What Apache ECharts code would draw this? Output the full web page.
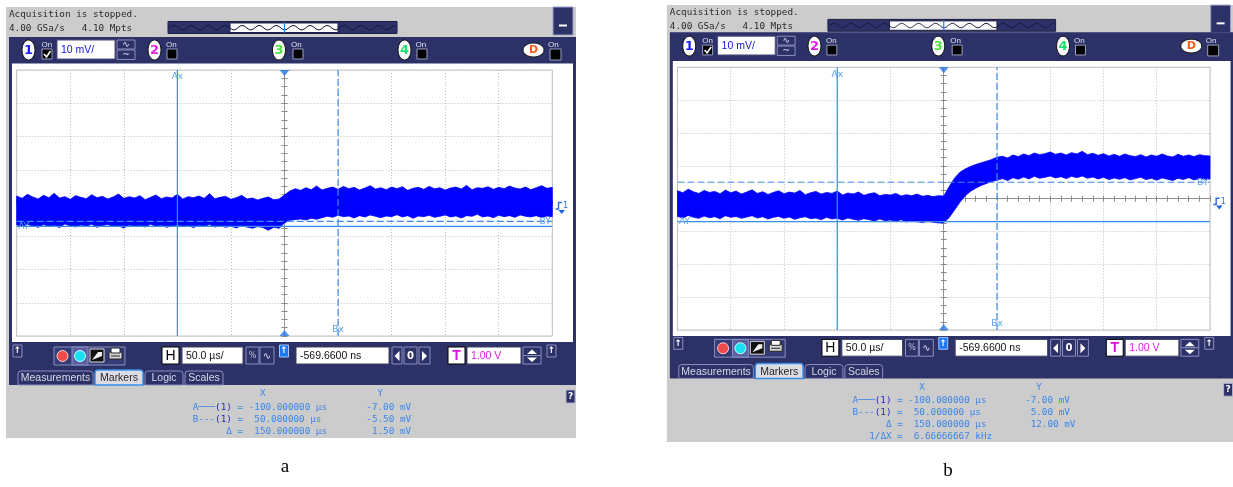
<!DOCTYPE html>
<html>
<head>
<meta charset="utf-8">
<script src="https://cdn.jsdelivr.net/npm/echarts@6/dist/echarts.min.js"></script>
<style>
  html, body { margin: 0; padding: 0; background: #ffffff; }
  #main { width: 1233px; height: 487px; }
</style>
</head>
<body>
<div id="main"></div>
<script>
// ---- Scope settings: 50 µs/div horizontally, 10 mV/div vertically ----
const timeRange = [-250, 250];   // µs
const timeDiv = 50;               // µs per division
const voltRange = [-40, 40];      // mV
const voltDiv = 10;               // mV per division
const triggerTime = 0;            // µs

// Sample clock of the envelope: one point every 5 µs across the screen
const timeUs = [];
for (let t = timeRange[0]; t <= timeRange[1]; t += 5) timeUs.push(t);

// ---- Capture (a): upper / lower envelope of the noisy trace, mV ----
const aUpper = [
  2.1, 1.4, 2.6, 1.8, 1.2, 2.3, 1.6, 2.9, 1.5, 1.9,
  1.1, 2.2, 1.7, 1.3, 2.5, 1.6, 2.0, 1.2, 1.8, 2.7,
  1.4, 1.9, 1.5, 2.2, 1.0, 1.7, 2.4, 1.3, 1.8, 1.5,
  2.6, 1.2, 1.9, 1.6, 2.1, 1.4, 2.8, 1.3, 1.7, 2.0,
  1.1, 1.6, 2.3, 1.2, 1.5, 0.9, 1.4, 1.8, 1.0, 1.2,
  2.4, 3.6, 4.3, 3.8, 4.6, 4.0, 5.1, 3.9, 4.4, 4.8,
  4.1, 5.0, 4.3, 4.7, 3.9, 4.5, 5.2, 4.2, 4.6, 4.0,
  4.8, 4.3, 4.9, 3.8, 4.4, 4.7, 4.1, 5.0, 4.3, 4.6,
  3.9, 4.5, 4.8, 4.2, 5.3, 4.0, 4.6, 4.4, 4.9, 4.1,
  4.7, 4.3, 5.1, 4.5, 4.2, 4.8, 4.0, 4.6, 5.2, 4.4, 4.7
];
const aLower = [
  -6.6, -7.1, -6.4, -6.9, -7.3, -6.5, -7.0, -6.7, -7.4, -6.3,
  -6.9, -7.2, -6.6, -7.0, -6.4, -7.3, -6.8, -6.5, -7.1, -6.9,
  -7.5, -6.6, -7.0, -6.8, -7.2, -6.4, -7.0, -6.7, -7.3, -6.9,
  -6.6, -7.1, -6.8, -7.4, -6.7, -7.0, -6.5, -7.2, -6.9, -7.3,
  -7.0, -7.5, -6.8, -7.2, -7.6, -7.1, -7.4, -8.2, -7.3, -7.6,
  -6.0, -5.2, -5.0, -4.8, -5.1, -4.6, -4.9, -4.4, -4.0, -4.3,
  -3.7, -4.1, -3.9, -4.5, -3.8, -4.2, -3.6, -4.0, -4.4, -3.9,
  -4.1, -3.5, -4.2, -3.8, -4.6, -3.9, -4.1, -3.7, -4.3, -4.0,
  -3.6, -4.2, -3.9, -4.5, -3.8, -4.0, -3.4, -4.2, -3.9, -4.4,
  -3.7, -4.1, -3.8, -4.3, -3.6, -4.0, -4.2, -3.8, -4.4, -3.9, -4.1
];

// ---- Capture (b): upper / lower envelope, mV ----
const bUpper = [
  2.4, 1.8, 2.9, 2.1, 1.6, 2.5, 1.9, 2.2, 1.5, 2.6,
  1.8, 2.3, 1.4, 2.0, 2.7, 1.6, 2.1, 1.3, 1.9, 2.4,
  1.5, 2.0, 1.7, 2.5, 1.2, 1.8, 2.2, 1.4, 1.9, 1.6,
  2.3, 1.1, 1.7, 1.4, 2.0, 1.0, 1.5, 1.8, 0.9, 1.3,
  1.1, 1.6, 0.8, 1.2, 0.9, 1.4, 0.7, 1.0, 0.6, 0.9,
  0.8, 3.6, 6.2, 8.0, 9.0, 9.8, 10.4, 10.9, 11.4, 11.9,
  12.6, 12.9, 12.4, 13.3, 12.8, 13.6, 13.1, 13.9, 13.4, 13.7,
  14.2, 13.5, 13.9, 13.3, 14.0, 13.6, 14.4, 13.4, 13.8, 13.2,
  13.7, 13.0, 13.5, 12.9, 13.6, 13.1, 12.8, 13.4, 12.7, 13.3,
  12.9, 13.6, 13.0, 12.7, 13.5, 12.9, 13.3, 12.8, 13.4, 13.1, 13.0
];
const bLower = [
  -5.4, -5.9, -5.1, -5.7, -6.0, -5.3, -5.8, -5.5, -6.1, -5.2,
  -5.7, -5.4, -6.0, -5.6, -5.2, -5.9, -5.5, -6.2, -5.7, -5.4,
  -6.0, -5.6, -6.3, -5.8, -5.5, -6.1, -5.9, -6.4, -5.7, -6.2,
  -6.0, -6.5, -5.9, -6.3, -6.6, -6.1, -6.4, -6.8, -6.2, -6.7,
  -6.5, -6.9, -6.4, -7.1, -6.8, -7.0, -7.3, -6.9, -7.2, -7.4,
  -7.3, -5.8, -3.5, -1.2, 0.8, 2.2, 3.2, 4.0, 4.6, 5.2,
  5.6, 6.1, 5.5, 6.4, 5.9, 6.6, 6.0, 6.8, 6.2, 6.5,
  6.9, 6.3, 6.7, 6.1, 6.8, 6.4, 6.9, 6.2, 6.6, 6.0,
  6.5, 5.8, 6.3, 5.9, 6.4, 5.7, 6.1, 6.5, 5.8, 6.2,
  5.6, 6.3, 5.9, 5.5, 6.2, 5.8, 6.4, 5.7, 6.1, 5.9, 6.0
];

// ---- Cursor markers (X in µs, Y in mV) ----
const markersA = { ax: -100, bx: 50, ay: -7.0, by: -5.5 };
const markersB = { ax: -100, bx: 50, ay: -7.0, by: 5.0 };

// ---- Colours and fonts ----
const TRACE = '#0000fe';
const MK = '#3b8ce8';
const MK_TEXT = '#5aa0f0';
const NAVY = '#2c3168';
const EDGE = '#8a90bc';
const PANEL = '#cccccc';
const READ = '#3b86ea';
const READ_DARK = '#2626c0';
const MONO = '9.3px "DejaVu Sans Mono", monospace';
const UI = '10.5px "Liberation Sans", Arial, sans-serif';

// Panel geometry helper: the layout is described once (panel a units) and
// mapped onto each screen with its own origin and scale.
function makeT(ox, oy, sx, sy) {
  return { x: v => ox + (v - 16.7) * sx, y: v => oy + (v - 70) * sy, sx: sx, sy: sy };
}
const TA = makeT(16.7, 70, 1, 1);
const TB = makeT(677.5, 67.3, 0.9942, 0.9876);

function signed(v, digits) {
  return (v < 0 ? '-' : ' ') + Math.abs(v).toFixed(digits);
}

function readoutRows(m, withFreq) {
  const dx = m.bx - m.ax, dy = m.by - m.ay;
  const rows = [
    [394, [[12, 'X', READ], [33, 'Y', READ]]],
    [407.7, [[0, 'A───', READ], [4, '(1)', READ_DARK], [8, '=', READ],
             [10, signed(m.ax, 6) + ' µs', READ], [31, signed(m.ay, 2) + ' mV', READ]]],
    [419.3, [[0, 'B---', READ], [4, '(1)', READ_DARK], [8, '=', READ],
             [10, signed(m.bx, 6) + ' µs', READ], [31, signed(m.by, 2) + ' mV', READ]]],
    [431.7, [[6, 'Δ', READ], [8, '=', READ],
             [10, signed(dx, 6) + ' µs', READ], [31, signed(dy, 2) + ' mV', READ]]]
  ];
  if (withFreq) {
    rows.push([444, [[3, '1/ΔX', READ], [8, '=', READ], [10, signed(1000 / dx, 8) + ' kHz', READ]]]);
  }
  return rows;
}

// Instrument frame, toolbars, tabs and readouts drawn around one screen
function chrome(T, opt) {
  const el = [];
  const rect = (x, y, w, h, fill, stroke, r, lw) => el.push({
    type: 'rect', silent: true, z: 0,
    shape: { x: T.x(x), y: T.y(y), width: w * T.sx, height: h * T.sy, r: r || 0 },
    style: { fill: fill || 'none', stroke: stroke || null, lineWidth: lw || 1 }
  });
  const text = (x, y, s, font, fill, align) => el.push({
    type: 'text', silent: true, z: 0, x: T.x(x), y: T.y(y),
    style: { text: s, font: font, fill: fill, align: align || 'left', verticalAlign: 'middle',
             textAlign: align || 'left', textVerticalAlign: 'middle' }
  });
  const line = (pts, stroke, lw) => el.push({
    type: 'polyline', silent: true, z: 0,
    shape: { points: pts.map(p => [T.x(p[0]), T.y(p[1])]) },
    style: { stroke: stroke, lineWidth: lw || 1, fill: null }
  });
  const poly = (pts, fill) => el.push({
    type: 'polygon', silent: true, z: 0,
    shape: { points: pts.map(p => [T.x(p[0]), T.y(p[1])]) },
    style: { fill: fill }
  });
  const ellipse = (cx, cy, rx, ry, fill, stroke) => el.push({
    type: 'ellipse', silent: true, z: 0,
    shape: { cx: T.x(cx), cy: T.y(cy), rx: rx * T.sx, ry: ry * T.sy },
    style: { fill: fill, stroke: stroke, lineWidth: 1 }
  });
  const circle = (cx, cy, r, fill, stroke) => el.push({
    type: 'circle', silent: true, z: 0,
    shape: { cx: T.x(cx), cy: T.y(cy), r: r },
    style: { fill: fill, stroke: stroke || null, lineWidth: 1 }
  });

  // outer grey body
  rect(6, 7, 570, opt.grayBottom - 7, PANEL);
  text(9, 14.3, 'Acquisition is stopped.', MONO, '#2a2a2a');
  text(9, 29, '4.00 GSa/s   4.10 Mpts', MONO, '#2a2a2a');

  // memory overview strip
  rect(168, 21.5, 229, 12, NAVY, '#1a1d44');
  rect(230, 23, 108, 9.5, '#ffffff', '#20204a');
  const wave = [];
  for (let x = 170; x <= 395; x += 1) {
    wave.push([x, 27.7 - 2.2 * Math.sin((x - 170) / 17 * 2 * Math.PI)]);
  }
  line(wave, '#16183a', 1);
  line([[284.5, 22], [284.5, 33]], '#2a7ae6', 1.2);

  // minimise button
  rect(553, 7, 20, 28, NAVY, '#9aa0c8');
  rect(559, 24.5, 8, 2, '#ffffff');

  // navy frame + white display
  rect(9, opt.barTop, 567, 385 - opt.barTop, NAVY);
  rect(12, 63.5, 561, 278.5, '#ffffff');

  // channel selector row
  const cy = 50 + opt.chShift;
  const chan = (cx, lab, col, onX, boxX, check) => {
    ellipse(cx, cy, 6.5, 10, '#ffffff', '#101010');
    text(cx, cy + 0.5, lab, 'bold 13px "DejaVu Sans", sans-serif', col, 'center');
    text(onX, cy - 5.5, 'On', '8px "Liberation Sans", sans-serif', '#e0e0ee');
    rect(boxX, cy - 1, 10, 10, '#000000', '#9aa0c0');
    if (check) line([[boxX + 2, cy + 4], [boxX + 4.5, cy + 7], [boxX + 8.5, cy + 1]], '#ffffff', 1.6);
  };
  chan(28.5, '1', '#1a1aff', 41.5, 42, true);
  rect(57, cy - 10, 58, 19, '#ffffff', '#505080');
  text(61, cy, '10 mV/', UI, '#1515d0');
  rect(117, cy - 10, 18, 9, NAVY, EDGE);
  rect(117, cy, 18, 9.5, NAVY, EDGE);
  text(126, cy - 5.5, '∿', '9px "DejaVu Sans"', '#e0e0f0', 'center');
  text(126, cy + 4.5, '~', '9px "DejaVu Sans"', '#e0e0f0', 'center');
  chan(154.5, '2', '#e020e0', 166, 167, false);
  chan(279, '3', '#50e040', 291, 293, false);
  chan(404.5, '4', '#20e070', 415.5, 417, false);
  ellipse(533.5, cy, 10.5, 7, '#ffffff', '#101010');
  text(533.5, cy + 0.5, 'D', 'bold 11px "DejaVu Sans", sans-serif', '#ff5a1a', 'center');
  text(548, cy - 5.5, 'On', '8px "Liberation Sans", sans-serif', '#e0e0ee');
  rect(550, cy - 1, 11, 11, '#000000', '#9aa0c0');

  // trigger level indicator right of the graticule
  line([[555.5, 209], [558.5, 209], [558.5, 202.5], [562, 202.5]], '#3470e0', 1.5);
  text(563, 206, '1', '8px "DejaVu Sans"', '#3470e0');
  poly([[558.5, 210], [565, 210], [561.7, 214]], '#2060e0');

  // bottom control row
  const by = opt.rowShift;
  const upBtn = (x, fill, stroke) => {
    rect(x, 345 + by, 9, 12, fill, stroke);
    text(x + 4.5, 351 + by, '↑', 'bold 9px "DejaVu Sans"', '#ffffff', 'center');
  };
  upBtn(13, NAVY, EDGE);
  rect(54, 347 + by, 71, 18, '#353b76', EDGE);
  rect(72, 347 + by, 16, 18, '#5a62a4', EDGE);
  circle(62.5, 356 + by, 5.5, '#f04a4a', '#ffd0d0');
  circle(80, 356 + by, 5.5, '#18e2f2', '#d0ffff');
  rect(90, 349 + by, 14, 13, '#111111', '#dddddd');
  poly([[92, 360 + by], [98, 352 + by], [102, 352 + by], [102, 356 + by]], '#f0f0f0');
  rect(109, 352 + by, 13, 7, '#d8d8d8', '#222222');
  rect(111, 348 + by, 9, 5, '#ffffff', '#222222');
  line([[111, 356 + by], [120, 356 + by]], '#222222', 1);

  rect(162, 347 + by, 17, 17, '#ffffff', '#000000');
  text(170.5, 356 + by, 'H', '14px "Liberation Sans", sans-serif', '#000000', 'center');
  rect(182, 347 + by, 61, 17, '#ffffff', '#404060');
  text(186, 356 + by, '50.0 µs/', UI, '#101010');
  rect(246, 347 + by, 13, 17, NAVY, EDGE);
  text(252.5, 356 + by, '%', '8px "DejaVu Sans"', '#c0c0d8', 'center');
  rect(260, 347 + by, 14, 17, NAVY, EDGE);
  text(267, 356 + by, '∿', '10px "DejaVu Sans"', '#e0e0f0', 'center');
  upBtn(279.5, '#1e78f0', '#a0c8ff');
  rect(296, 347 + by, 93, 17, '#ffffff', '#404060');
  text(300, 356 + by, '-569.6600 ns', UI, '#101010');
  rect(392, 347 + by, 10, 17, NAVY, EDGE);
  poly([[399.5, 351 + by], [399.5, 361 + by], [394.5, 356 + by]], '#ffffff');
  rect(404, 347 + by, 13, 17, NAVY, EDGE);
  text(410.5, 356 + by, '0', 'bold 10px "DejaVu Sans"', '#ffffff', 'center');
  rect(419, 347 + by, 11, 17, NAVY, EDGE);
  poly([[422, 351 + by], [422, 361 + by], [427, 356 + by]], '#ffffff');
  rect(448, 347 + by, 17, 17, '#ffffff', '#000000');
  text(456.5, 356 + by, 'T', 'bold 14px "Liberation Sans", sans-serif', '#e010e0', 'center');
  rect(467, 347 + by, 54, 17, '#ffffff', '#404060');
  text(471, 356 + by, '1.00 V', UI, '#e020e0');
  rect(523, 347 + by, 18, 8.5, NAVY, EDGE);
  poly([[527, 354 + by], [537, 354 + by], [532, 349.5 + by]], '#ffffff');
  rect(523, 355.5 + by, 18, 8.5, NAVY, EDGE);
  poly([[527, 357.5 + by], [537, 357.5 + by], [532, 362 + by]], '#ffffff');
  upBtn(547, NAVY, EDGE);

  // tabs
  const tab = (x, w, label, active) => {
    if (active) {
      rect(x, 370, w, 15, '#dcdce4', '#3a8ee8', [3, 3, 0, 0], 1.5);
      text(x + w / 2, 378.5, label, UI, '#262626', 'center');
    } else {
      rect(x, 371, w, 14, NAVY, EDGE, [3, 3, 0, 0]);
      text(x + w / 2, 378.5, label, UI, '#d8d8e4', 'center');
    }
  };
  tab(18, 75, 'Measurements', false);
  tab(145, 38, 'Logic', false);
  tab(185, 38, 'Scales', false);
  tab(95, 48, 'Markers', true);

  // help button
  rect(566, 390, 9, 13, NAVY, '#b0b4d0');
  text(570.5, 396.5, '?', 'bold 9px "DejaVu Sans"', '#ffffff', 'center');

  // marker readouts
  const x0 = 192.7, cw = 5.6;
  opt.rows.forEach(function (row) {
    row[1].forEach(function (seg) {
      text(x0 + seg[0] * cw, row[0], seg[1], MONO, seg[2]);
    });
  });
  return el;
}

// ---- Axes: graticule with centre cross and minor ticks ----
function axesFor(g, dim) {
  const isX = dim === 'x';
  const range = isX ? timeRange : voltRange;
  const step = isX ? timeDiv : voltDiv;
  const base = {
    gridIndex: g, type: 'value', min: range[0], max: range[1], interval: step,
    axisLabel: { show: false }, z: 1, silent: true,
    axisLine: { show: true, onZero: true, lineStyle: { color: '#8e8e8e', type: [1, 1], width: 1 } },
    minorTick: { show: true, splitNumber: isX ? 5 : 4, length: 3, lineStyle: { color: '#8a8a8a' } }
  };
  const a0 = Object.assign({}, base, {
    position: isX ? 'bottom' : 'left',
    axisTick: { show: true, inside: true, length: 3, lineStyle: { color: '#8a8a8a' } },
    splitLine: { show: true, lineStyle: { color: '#bdbdbd', type: [1, 2], width: 1 } }
  });
  const a1 = Object.assign({}, base, {
    position: isX ? 'bottom' : 'left',
    axisTick: { show: true, inside: false, length: 3, lineStyle: { color: '#8a8a8a' } },
    splitLine: { show: false }
  });
  return [a0, a1];
}

// ---- Series: trace envelope + cursors + trigger marks ----
function panelSeries(g, upper, lower, m) {
  const ai = g * 2;
  const out = [];
  // envelope: each data item is [time, low, high]; the first item draws the
  // whole filled band as one polygon mapped through the axes
  out.push({
    type: 'custom', xAxisIndex: ai, yAxisIndex: ai, z: 2, silent: true,
    data: timeUs.map((t, i) => [t, lower[i], upper[i]]),
    encode: { x: 0, y: [1, 2] },
    renderItem: function (params, api) {
      if (params.dataIndex !== 0) return null;
      const pts = [];
      for (let i = 0; i < timeUs.length; i++) pts.push(api.coord([timeUs[i], upper[i]]));
      for (let i = timeUs.length - 1; i >= 0; i--) pts.push(api.coord([timeUs[i], lower[i]]));
      return {
        type: 'polygon',
        shape: { points: pts },
        style: { fill: TRACE, stroke: TRACE, lineWidth: 0.8 }
      };
    }
  });

  const cursor = (pts, dashed, labelIdx, label, pos, offset) => ({
    type: 'line', xAxisIndex: ai, yAxisIndex: ai, z: 4, silent: true, clip: false,
    symbol: 'circle', symbolSize: 1, showSymbol: true,
    itemStyle: { color: 'rgba(0,0,0,0)' },
    lineStyle: { color: MK, width: 1.2, type: dashed ? [7, 3] : 'solid' },
    data: pts.map((p, i) => i === labelIdx ? {
      value: p,
      label: { show: true, formatter: label, position: pos, distance: 1, offset: offset || [0, 0],
               color: MK_TEXT, fontSize: 9, fontFamily: '"DejaVu Sans", sans-serif' }
    } : { value: p })
  });
  out.push(cursor([[m.ax, voltRange[0]], [m.ax, voltRange[1]]], false, 1, 'Ax', 'bottom', [0, 1]));
  out.push(cursor([[m.bx, voltRange[0]], [m.bx, voltRange[1]]], true, 0, 'Bx', 'top', [0, 0]));
  out.push(cursor([[timeRange[0], m.ay], [timeRange[1], m.ay]], false, 0, 'AY', 'right', [0, 0]));
  out.push(cursor([[timeRange[0], m.by], [timeRange[1], m.by]], true, 1, 'BY', 'left', [0, 0]));

  out.push({
    type: 'scatter', xAxisIndex: ai, yAxisIndex: ai, z: 5, silent: true, clip: false,
    symbol: 'triangle', symbolSize: [10, 6],
    itemStyle: { color: '#2a7ae6' },
    data: [
      { value: [triggerTime, voltRange[1]], symbolRotate: 180, symbolOffset: [0, 3] },
      { value: [triggerTime, voltRange[0]], symbolRotate: 0, symbolOffset: [0, -3] }
    ]
  });
  return out;
}

const gridBox = (T) => ({
  left: T.x(16.7), top: T.y(70), width: 535.6 * T.sx, height: 266 * T.sy,
  show: true, borderColor: '#c4c4c4', borderWidth: 1, backgroundColor: 'rgba(0,0,0,0)', z: 1
});

const chart = echarts.init(document.getElementById('main'), null, { renderer: 'canvas', width: 1233, height: 487 });

const graphicEls = []
  .concat(chrome(TA, { grayBottom: 438, barTop: 37, chShift: 0, rowShift: 0, rows: readoutRows(markersA, false) }))
  .concat(chrome(TB, { grayBottom: 449.4, barTop: 34.6, chShift: -1.5, rowShift: -1.5, rows: readoutRows(markersB, true) }))
  .concat([
    { type: 'text', silent: true, z: 0, x: 285, y: 467,
      style: { text: 'a', font: '19px "Liberation Serif", "Times New Roman", serif', fill: '#000000',
               align: 'center', verticalAlign: 'middle', textAlign: 'center', textVerticalAlign: 'middle' } },
    { type: 'text', silent: true, z: 0, x: 948, y: 471,
      style: { text: 'b', font: '19px "Liberation Serif", "Times New Roman", serif', fill: '#000000',
               align: 'center', verticalAlign: 'middle', textAlign: 'center', textVerticalAlign: 'middle' } }
  ]);

chart.setOption({
  animation: false,
  backgroundColor: '#ffffff',
  grid: [gridBox(TA), gridBox(TB)],
  xAxis: axesFor(0, 'x').concat(axesFor(1, 'x')),
  yAxis: axesFor(0, 'y').concat(axesFor(1, 'y')),
  series: panelSeries(0, aUpper, aLower, markersA).concat(panelSeries(1, bUpper, bLower, markersB)),
  graphic: { elements: graphicEls }
});
</script>
</body>
</html>
